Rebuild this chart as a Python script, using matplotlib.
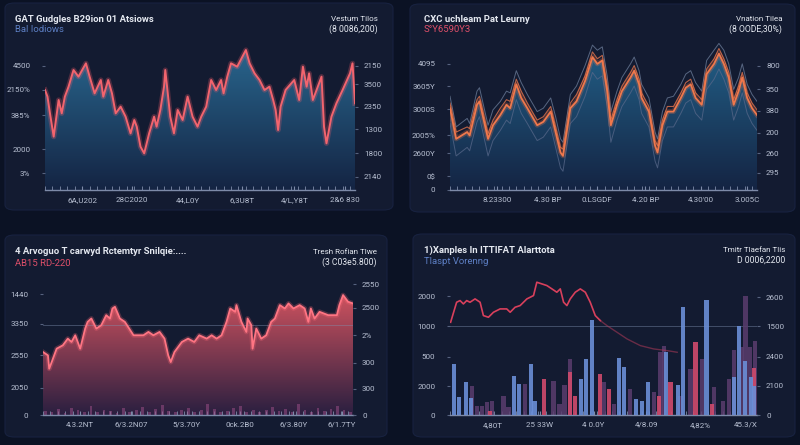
import numpy as np
import matplotlib.pyplot as plt
from matplotlib.colors import LinearSegmentedColormap
from matplotlib.patches import FancyBboxPatch

plt.rcParams['font.family'] = ['Roboto', 'DejaVu Sans']

# ---- panel 1: top-left area chart ----
p1_days = [0, 2, 4, 7, 11, 13.5, 16, 19, 23, 27, 33, 36, 40, 45, 47, 51, 54, 57, 61, 65,
           69, 72, 74, 77, 80, 84, 88, 90, 93, 96, 97, 99, 101, 104, 107, 111, 115, 119, 123, 126,
           130, 134, 138, 142, 144, 147, 150, 155, 162, 165, 169, 173, 177, 181, 184, 186, 188, 190,
           194, 201, 205, 208, 211, 213, 216, 223, 225, 227, 231, 235, 240, 246, 248, 250]
p1_vals = [3600, 3360, 2760, 1920, 3240, 2760, 3360, 3720, 4320, 4080, 4560, 4080, 3480, 3960,
           3360, 3960, 3480, 2760, 3000, 2640, 2040, 2520, 2280, 1560, 1320, 2040, 2640, 2280,
           2880, 3720, 4320, 3480, 2640, 2040, 2880, 2520, 3360, 2640, 2280, 2640, 3000, 3960,
           3600, 3960, 3480, 4080, 4560, 4440, 5040, 4560, 4200, 3960, 3600, 3720, 3240, 2880,
           2160, 3000, 3600, 3960, 3240, 4440, 3720, 4200, 3240, 4080, 2280, 1680, 2640, 3120,
           3600, 4200, 4560, 3120]
p1_left_ticks = [4480, 3600, 2700, 1460, 600]
p1_left_labels = ["4500", "2150%", "385%", "2000", "3%"]
p1_right_ticks = [4480, 3800, 3000, 2180, 1320, 480]
p1_right_labels = ["2150", "3500", "2350", "1300", "1800", "2140"]
p1_xticks = [30, 70, 115, 159, 201, 242]
p1_xlabels = ["6A,U202", "28C2020", "44,L0Y", "6,3U8T", "4/L,Y8T", "2&6 830"]

# ---- panel 2: top-right band chart ----
p2_days = [0, 5, 14, 16, 22, 24, 31, 35, 41, 46, 49, 54, 58, 63, 71, 76, 82, 86, 90, 92,
           98, 103, 110, 116, 120, 124, 128, 131, 136, 140, 147, 150, 154, 156, 162, 167, 169,
           173, 177, 182, 188, 192, 196, 200, 205, 209, 215, 219, 223, 227, 231, 235, 238, 242,
           246, 250]
p2_main = [2400, 1500, 1700, 1600, 2500, 2600, 1500, 1900, 2200, 2500, 2400, 3100, 2700, 2400,
           1900, 2000, 2300, 1700, 1100, 1000, 2400, 2600, 3200, 3900, 3700, 3800, 2900, 1900,
           2500, 2900, 3300, 3500, 3100, 2700, 2300, 1300, 1100, 1900, 2300, 2300, 2700, 3000,
           3100, 2700, 2500, 3400, 3700, 4000, 3700, 3300, 2500, 2900, 3300, 2700, 2400, 2200]
p2_second = [2550, 1700, 1850, 1800, 2650, 2750, 1650, 2050, 2400, 2650, 2600, 3250, 2900, 2550,
             2050, 2150, 2450, 1850, 1250, 1200, 2550, 2800, 3350, 4050, 3850, 3950, 3050, 2050,
             2650, 3050, 3450, 3650, 3250, 2850, 2450, 1450, 1300, 2050, 2450, 2450, 2850, 3150,
             3250, 2850, 2650, 3550, 3850, 4150, 3850, 3450, 2650, 3050, 3450, 2850, 2550, 2350]
p2_upper = [2750, 1850, 2100, 1950, 2900, 3000, 1900, 2350, 2600, 2900, 2850, 3500, 3150, 2800,
            2300, 2400, 2700, 2150, 1500, 1400, 2800, 3050, 3650, 4250, 4100, 4200, 3350, 2300,
            2900, 3300, 3700, 3900, 3500, 3100, 2700, 1700, 1500, 2300, 2700, 2750, 3100, 3400,
            3500, 3150, 2900, 3800, 4100, 4300, 4100, 3700, 2950, 3300, 3700, 3100, 2800, 2600]
p2_lower = [1950, 1000, 1250, 1150, 2000, 2150, 1000, 1450, 1750, 2050, 1950, 2650, 2250, 1950,
            1450, 1550, 1850, 1250, 650, 550, 1950, 2150, 2750, 3450, 3250, 3350, 2450, 1400,
            2050, 2450, 2850, 3050, 2650, 2250, 1850, 850, 650, 1450, 1850, 1850, 2250, 2550,
            2650, 2250, 2050, 2950, 3250, 3550, 3250, 2850, 2050, 2450, 2850, 2250, 1950, 1750]
p2_left_ticks = [3700, 3050, 2370, 1600, 1080, 400, 0]
p2_left_labels = ["4095", "3605Y", "3000S", "2005%", "2600Y", "0$", "0"]
p2_right_ticks = [3650, 2950, 2320, 1680, 1080, 500]
p2_right_labels = ["800", "350", "380", "200", "260", "295"]
p2_xticks = [38, 80, 120, 159, 204, 242]
p2_xlabels = ["8.23300", "4.30 BP", "0.LSGDF", "4.20 BP", "4.30'00", "3.005C"]

# ---- panel 3: bottom-left red area chart ----
p3_days = [0, 4, 5, 8, 11, 16, 20, 23, 26, 30, 34, 36, 39, 43, 47, 51, 54, 56, 58, 62, 66,
           73, 81, 85, 89, 94, 98, 101, 103, 106, 112, 117, 122, 126, 132, 136, 140, 144, 148,
           151, 155, 156, 160, 164, 165, 168, 169, 172, 176, 180, 184, 187, 191, 195, 198, 202,
           207, 211, 214, 216, 219, 223, 230, 237, 239, 242, 246, 250]
p3_vals = [940, 890, 690, 840, 990, 1040, 1140, 1090, 1190, 990, 1290, 1390, 1440, 1290, 1340,
           1490, 1440, 1590, 1615, 1440, 1390, 1190, 1190, 1240, 1190, 1240, 1140, 890, 790, 940,
           1090, 1140, 1090, 1190, 1140, 1190, 1140, 1190, 1390, 1590, 1540, 1640, 1390, 1240,
           1440, 1340, 990, 1290, 1140, 1190, 1390, 1440, 1640, 1590, 1665, 1590, 1640, 1590,
           1390, 1590, 1440, 1540, 1490, 1490, 1640, 1790, 1690, 1665]
p3_volume = [60, 40, 90, 30, 110, 70, 50, 140, 40, 80, 60, 30, 100, 50, 70, 120, 40, 90, 150,
             60, 40, 80, 110, 50, 70, 160, 90, 40, 60, 100, 130, 50, 80, 40, 70, 120, 60, 90,
             50, 170, 80, 40, 110, 60, 90, 130, 70, 50]
p3_left_ticks = [1800, 1365, 890, 405, 0]
p3_left_labels = ["1440", "3350", "2550", "2050", "0"]
p3_right_ticks = [1950, 1600, 1190, 780, 390, 0]
p3_right_labels = ["2550", "2500", "2%", "300", "300", "0"]
p3_xticks = [30, 71, 116, 159, 202, 241]
p3_xlabels = ["4.3.2NT", "6/3.2N07", "5/3.70Y", "0ck.2B0", "6/3.80Y", "6/1.7TY"]

# ---- panel 4: bottom-right bars + line ----
p4_blue_days = [3.5, 7.6, 12.8, 17.1, 52.2, 56.3, 66.1, 68.8, 106.6, 111, 115.6, 137.4, 142,
                151.8, 156.4, 161, 176, 185.5, 189.9, 208.9, 231.2, 235.3, 239.9, 244.8, 247.5]
p4_blue_vals = [857, 297, 560, 280, 661, 521, 857, 241, 605, 941, 1602, 952, 801, 269, 241,
                560, 1053, 510, 1820, 1932, 633, 1501, 913, 644, 482]
p4_red_days = [32.6, 76.7, 97.9, 102, 121.9, 129.2, 170, 179.5, 199.9, 213.5, 247.5]
p4_red_vals = [73, 605, 717, 325, 689, 437, 325, 549, 1232, 185, 784]
p4_purple_days = [17.7, 21.8, 25.8, 29.9, 34, 43.5, 47.6, 61.2, 84.3, 89.2, 93.3, 97.9, 125.1,
                  133.3, 146.9, 165.9, 171.4, 174.6, 187.7, 195.8, 205.4, 214.9, 222.5, 227.1,
                  231.2, 238, 240.7, 244.3, 248.1]
p4_purple_vals = [493, 157, 157, 213, 241, 325, 129, 521, 577, 185, 504, 941, 549, 185, 437,
                  392, 1053, 1154, 325, 773, 941, 465, 230, 605, 1098, 1137, 2005, 1137, 1249]
p4_line_days = [0.5, 5.4, 8.2, 10.9, 13.6, 16.3, 20.4, 24.5, 27.2, 31.3, 35.4, 40.8, 46.2, 49,
                53, 57.1, 62.6, 68, 70.7, 74.8, 78.9, 83, 87, 89.8, 92.5, 95.2, 97.9, 102, 106.1,
                110.2, 114.2, 118.3, 122.4, 127.8, 136, 144.2, 155, 165.9, 176.8, 185]
p4_line_vals = [1557, 1893, 1921, 1865, 1921, 1893, 1949, 1893, 1669, 1641, 1725, 1781, 1781,
                1725, 1809, 1837, 1949, 2005, 2229, 2201, 2173, 2117, 2061, 2117, 1893, 1837,
                1949, 2061, 2117, 2061, 1893, 1669, 1585, 1501, 1389, 1277, 1165, 1109, 1081, 1053]
p4_left_ticks = [1994, 1490, 980, 482, 0]
p4_left_labels = ["2000", "1000", "500", "2000", "0"]
p4_right_ticks = [1980, 1490, 980, 490, 0]
p4_right_labels = ["2600", "1500", "2400", "2100", "0"]
p4_xticks = [35, 73, 117, 160, 204, 241]
p4_xlabels = ["4,80T", "25 33W", "4 0.0Y", "4/8.09", "4,82%", "45.3/X"]

FIG_BG = "#0b1224"
PANEL_BG = "#131b31"
TXT = "#e4e8f0"
TICK_TXT = "#b8c0d2"
AXIS_C = "#7d8aa8"
W, H = 800, 445

fig = plt.figure(figsize=(8, 4.45), dpi=100, facecolor=FIG_BG)


def px_box(x0, y0, x1, y1):
    # pixel box (top-left origin) -> figure fraction [l, b, w, h]
    return [x0 / W, 1 - y1 / H, (x1 - x0) / W, (y1 - y0) / H]


def panel(x0, y0, x1, y1):
    l, b, w, h = px_box(x0, y0, x1, y1)
    fig.patches.append(FancyBboxPatch((l, b), w, h, boxstyle="round,pad=0,rounding_size=0.012",
                                      transform=fig.transFigure, facecolor=PANEL_BG,
                                      edgecolor="#182240", lw=0.8, zorder=-5))


def headers(x_left, x_right, y, title, sub, sub_color, rt1, rt2):
    fig.text(x_left / W, 1 - y / H, title, color=TXT, fontsize=6.8, weight="bold", va="center")
    fig.text(x_left / W, 1 - (y + 11) / H, sub, color=sub_color, fontsize=6.8, va="center")
    fig.text(x_right / W, 1 - y / H, rt1, color=TXT, fontsize=5.8, ha="right", va="center")
    fig.text(x_right / W, 1 - (y + 10) / H, rt2, color=TXT, fontsize=6.2, ha="right", va="center")


def style_axes(ax, ymax, lt, ll, rt, rl, xt, xl):
    ax.set_facecolor("none")
    ax.set_xlim(0, 250)
    ax.set_ylim(0, ymax)
    for s in ["top", "right", "left"]:
        ax.spines[s].set_visible(False)
    ax.spines["bottom"].set_color(AXIS_C)
    ax.spines["bottom"].set_linewidth(1.0)
    ax.set_yticks(lt)
    ax.set_yticklabels(ll)
    ax.set_xticks(xt)
    ax.set_xticklabels(xl)
    ax.set_xticks(np.arange(0, 251, 6), minor=True)
    ax.tick_params(axis="x", which="both", direction="in", length=3, color=AXIS_C,
                   labelsize=5.8, labelcolor=TICK_TXT, pad=5)
    ax.tick_params(axis="y", length=2.5, color="#56627e", labelsize=5.8,
                   labelcolor=TICK_TXT, pad=8)
    ax2 = ax.twinx()
    ax2.set_ylim(0, ymax)
    for s in ax2.spines.values():
        s.set_visible(False)
    ax2.set_yticks(rt)
    ax2.set_yticklabels(rl)
    ax2.tick_params(axis="y", length=2.5, color="#56627e", labelsize=5.8,
                    labelcolor=TICK_TXT, pad=4)
    return ax2


def gradient_fill(ax, x, y, top_color, bot_color, ymax, z=1):
    poly = ax.fill_between(x, 0, y, facecolor="none", edgecolor="none")
    cmap = LinearSegmentedColormap.from_list("g", [bot_color, top_color])
    grad = np.linspace(0, 1, 256).reshape(-1, 1)
    im = ax.imshow(grad, extent=[min(x), max(x), 0, ymax], aspect="auto", origin="lower",
                   cmap=cmap, zorder=z)
    im.set_clip_path(poly.get_paths()[0], transform=ax.transData)


# panels
panel(5, 3, 393, 210)
panel(410, 4, 795, 212)
panel(5, 235, 387, 437)
panel(413, 234, 795, 437)

# ---- panel 1 ----
ax1 = fig.add_axes(px_box(45, 40, 355, 190))
gradient_fill(ax1, p1_days, p1_vals, "#2a6a92", "#142443", 5400)
ax1.plot(p1_days, p1_vals, color="#ff5f6d", lw=3.8, alpha=0.25, zorder=3)
ax1.plot(p1_days, p1_vals, color="#f2646e", lw=1.4, zorder=4)
style_axes(ax1, 5400, p1_left_ticks, p1_left_labels, p1_right_ticks, p1_right_labels,
           p1_xticks, p1_xlabels)
headers(15, 378, 19, "GAT Gudgles B29ion 01 Atsiows", "Bal Iodiows", "#5d7fc4",
        "Vestum Tilos", "(8 0086,200)")

# ---- panel 2 ----
ax2 = fig.add_axes(px_box(450, 40, 757, 190))
gradient_fill(ax2, p2_days, p2_main, "#23628a", "#142443", 4400)
ax2.plot(p2_days, p2_upper, color="#6e7f9c", lw=0.7, alpha=0.75, zorder=3)
ax2.plot(p2_days, p2_lower, color="#58688a", lw=0.7, alpha=0.75, zorder=3)
ax2.plot(p2_days, p2_second, color="#e0744e", lw=0.8, alpha=0.8, zorder=4)
ax2.plot(p2_days, p2_main, color="#ff7a4a", lw=3.5, alpha=0.25, zorder=4)
ax2.plot(p2_days, p2_main, color="#f0784c", lw=1.3, zorder=5)
style_axes(ax2, 4400, p2_left_ticks, p2_left_labels, p2_right_ticks, p2_right_labels,
           p2_xticks, p2_xlabels)
headers(424, 782, 19, "CXC uchleam Pat Leurny", "S°Y6590Y3", "#e0506a",
        "Vnation Tilea", "(8 OODE,30%)")

# ---- panel 3 ----
ax3 = fig.add_axes(px_box(43, 281, 353, 415))
gradient_fill(ax3, p3_days, p3_vals, "#e05862", "#2a1f40", 2000)
vol_x = np.linspace(2, 248, len(p3_volume))
ax3.bar(vol_x, p3_volume, width=2.2, color="#a0508a", alpha=0.5, zorder=2)
ax3.axhline(1340, color="#8090b0", lw=0.6, alpha=0.5, zorder=2)
ax3.plot(p3_days, p3_vals, color="#ff6a78", lw=3.5, alpha=0.25, zorder=3)
ax3.plot(p3_days, p3_vals, color="#ff7583", lw=1.3, zorder=4)
style_axes(ax3, 2000, p3_left_ticks, p3_left_labels, p3_right_ticks, p3_right_labels,
           p3_xticks, p3_xlabels)
headers(15, 377, 252, "4 Arvoguo T carwyd Rctemtyr Snilqie:....", "AB15 RD-220", "#e0506a",
        "Tresh Rofian Tlwe", "(3 C03e5.800)")

# ---- panel 4 ----
ax4 = fig.add_axes(px_box(450, 278, 757, 415))
ax4.bar(p4_purple_days, p4_purple_vals, width=3.4, color="#5a3d6e", alpha=0.85, zorder=2)
ax4.bar(p4_red_days, p4_red_vals, width=3.4, color="#d04a6c", alpha=0.9, zorder=3)
ax4.bar(p4_blue_days, p4_blue_vals, width=3.4, color="#6a8ed6", alpha=0.9, zorder=3)
ax4.axhline(1500, color="#8090b0", lw=0.6, alpha=0.5, zorder=1)
ax4.plot(p4_line_days[:33], p4_line_vals[:33], color="#d8405c", lw=1.2, zorder=4)
ax4.plot(p4_line_days[32:], p4_line_vals[32:], color="#b03a58", lw=1.0, alpha=0.55, zorder=4)
style_axes(ax4, 2300, p4_left_ticks, p4_left_labels, p4_right_ticks, p4_right_labels,
           p4_xticks, p4_xlabels)
headers(424, 785, 250, "1)Xanples In ITTIFAT Alarttota", "Tlaspt Vorenng", "#5d7fc4",
        "Tmitr Tlaefan Tlis", "D 0006,2200")

fig.savefig("out.png", dpi=100, facecolor=FIG_BG)
